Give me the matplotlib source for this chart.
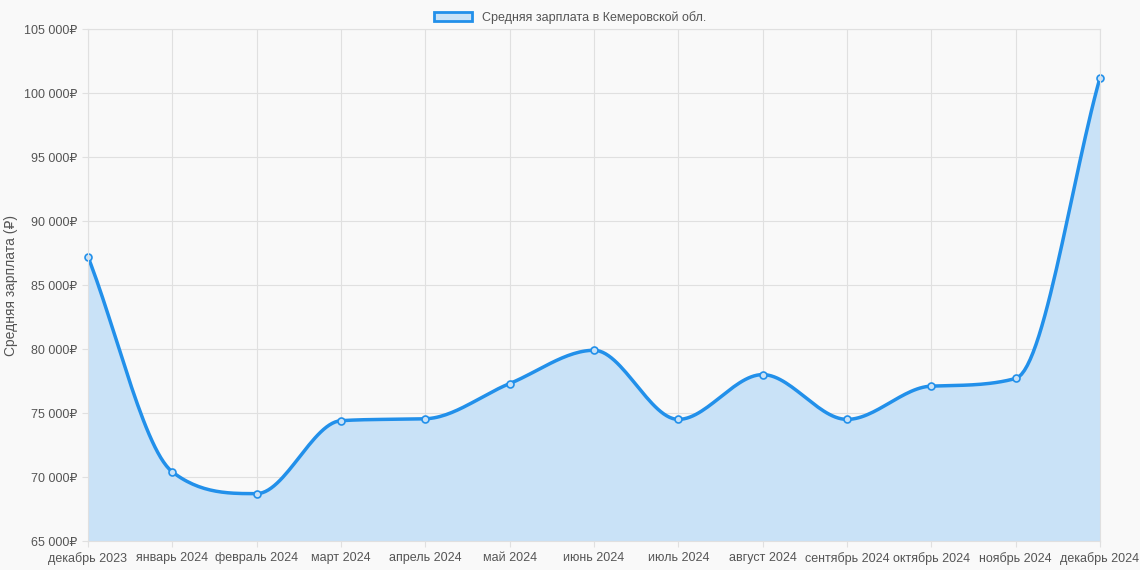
import matplotlib
matplotlib.use("Agg")
import matplotlib.pyplot as plt
import numpy as np
from matplotlib.patches import Patch

plt.rcParams['font.family'] = ['Liberation Sans', 'DejaVu Sans']

months = ["декабрь 2023","январь 2024","февраль 2024","март 2024","апрель 2024","май 2024",
          "июнь 2024","июль 2024","август 2024","сентябрь 2024","октябрь 2024","ноябрь 2024","декабрь 2024"]
salary = [87200, 70400, 68700, 74400, 74550, 77300, 79900, 74500, 78000, 74500, 77100, 77700, 101200]
yticks = list(range(65000, 105001, 5000))

def monotone(xs, ys, n=30):
    xs = np.asarray(xs, float); ys = np.asarray(ys, float)
    d = np.diff(ys) / np.diff(xs)
    m = np.zeros_like(ys)
    m[0], m[-1] = d[0], d[-1]
    for i in range(1, len(ys) - 1):
        m[i] = 0 if d[i-1] * d[i] <= 0 else (d[i-1] + d[i]) / 2
    for i in range(len(d)):
        if d[i] == 0:
            m[i] = m[i+1] = 0
            continue
        a, b = m[i] / d[i], m[i+1] / d[i]
        s = a*a + b*b
        if s > 9:
            t = 3 / np.sqrt(s)
            m[i], m[i+1] = t*a*d[i], t*b*d[i]
    X, Y = [], []
    for i in range(len(d)):
        h = xs[i+1] - xs[i]
        s = np.linspace(0, 1, n)
        h00 = 2*s**3 - 3*s**2 + 1; h10 = s**3 - 2*s**2 + s
        h01 = -2*s**3 + 3*s**2; h11 = s**3 - s**2
        X += list(xs[i] + s*h)
        Y += list(h00*ys[i] + h10*h*m[i] + h01*ys[i+1] + h11*h*m[i+1])
    return np.array(X), np.array(Y)

fig = plt.figure(figsize=(11.4, 5.7), dpi=100, facecolor="#f9f9f9")
ax = fig.add_axes([88/1140, 29/570, 1012/1140, 512/570], facecolor="#f9f9f9")
x = np.arange(len(months))
sx, sy = monotone(x, salary)
blue = "#2290ea"
ax.fill_between(sx, sy, 65000, color="#c9e2f7", lw=0)
ax.plot(sx, sy, color=blue, lw=2.5)
ax.plot(x, salary, "o", ms=5, mfc="#c9e2f7", mec=blue, mew=1.2, clip_on=False)
ax.set_xlim(0, len(months) - 1)
ax.set_ylim(65000, 105000)
ax.set_xticks(x)
ax.set_xticklabels(months, fontsize=9, color="#555")
ax.set_yticks(yticks)
ax.set_yticklabels([f"{v//1000} 000₽" for v in yticks], fontsize=9, color="#555")
ax.grid(True, color="#e0e0e0", lw=0.8)
ax.set_axisbelow(True)
for s in ax.spines.values():
    s.set_color("#e0e0e0")
ax.tick_params(length=4, color="#e0e0e0", pad=4)
ax.set_ylabel("Средняя зарплата (₽)", fontsize=10, color="#555", labelpad=4)
fig.legend(handles=[Patch(facecolor="#c9e2f7", edgecolor=blue, lw=2, label="Средняя зарплата в Кемеровской обл.")],
           loc="upper center", bbox_to_anchor=(0.5, 1.0), frameon=False, fontsize=9,
           handlelength=3, labelcolor="#555")
fig.savefig("out.png", dpi=100, facecolor=fig.get_facecolor())
